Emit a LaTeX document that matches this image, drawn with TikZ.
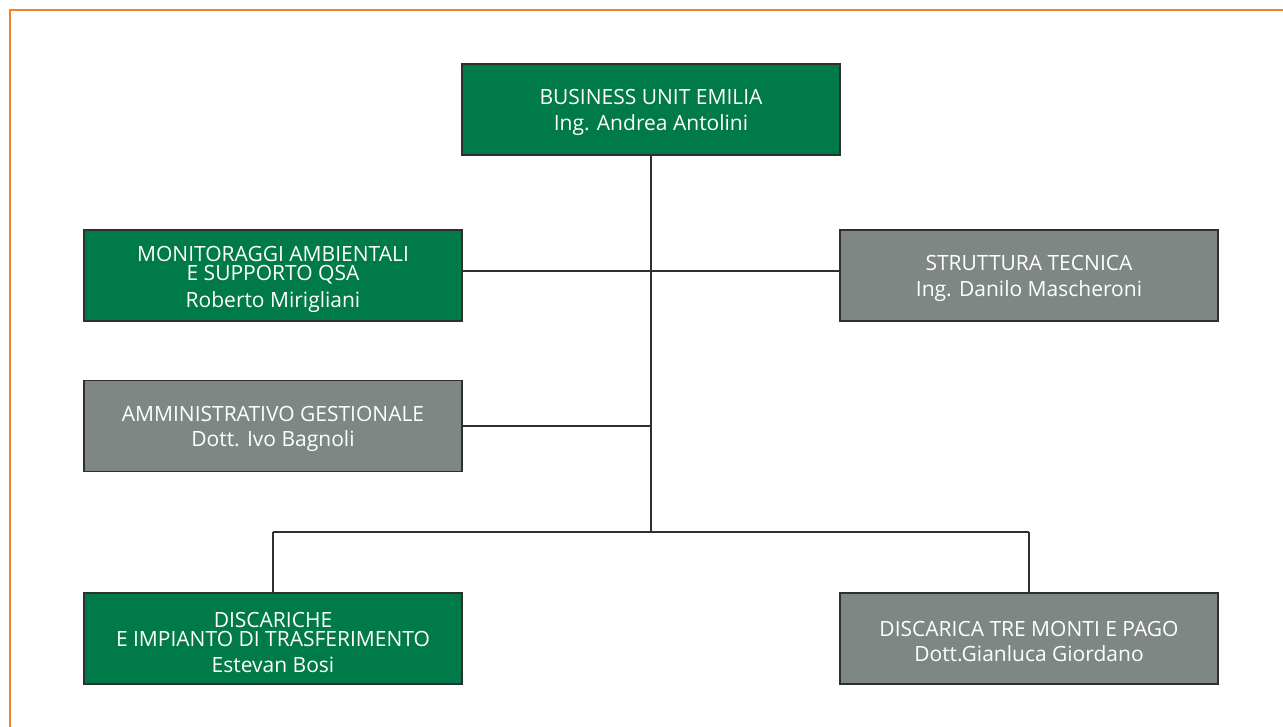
\documentclass[tikz,border=0pt]{standalone}
\usepackage{fontspec}
\setmainfont{Open Sans}
\definecolor{bgreen}{RGB}{0,122,72}
\definecolor{bgray}{RGB}{127,135,132}
\definecolor{bframe}{RGB}{244,128,46}
\definecolor{bedge}{RGB}{45,48,46}
\tikzset{
  box/.style={draw=bedge, line width=1.4pt, minimum width=378pt, minimum height=91pt,
    inner sep=0pt},
  gbox/.style={box, fill=bgreen},
  ybox/.style={box, fill=bgray},
  txt/.style={inner sep=0pt, text=white, align=center, font=\fontsize{21}{25.5}\selectfont},
  tight/.style={txt, font=\fontsize{21}{19.5}\selectfont},
  link/.style={draw=bedge, line width=1.2pt}
}
\begin{document}
\begin{tikzpicture}[x=1pt,y=-1pt]
\useasboundingbox (0,0) rectangle (1283,727);
\draw[bframe, line width=2.2pt] (10,727) -- (10,10) -- (1283,10);
\node[gbox] (top) at (651,109.5) {};
\node[gbox] (mon) at (273,275.5) {};
\node[ybox] (str) at (1029,275.5) {};
\node[ybox] (amm) at (273,426) {};
\node[gbox] (dis) at (273,638.5) {};
\node[ybox] (tre) at (1029,638.5) {};
\node[txt] (topt) at ([yshift=-3pt]top.center) {BUSINESS UNIT EMILIA\\Ing. Andrea Antolini};
\node[tight] (mont) at ([yshift=-4pt]mon.center) {MONITORAGGI AMBIENTALI\\E SUPPORTO QSA\\[6.5pt]Roberto Mirigliani};
\node[txt] (strt) at ([yshift=-3pt]str.center) {STRUTTURA TECNICA\\Ing. Danilo Mascheroni};
\node[txt] (ammt) at ([yshift=-3pt]amm.center) {AMMINISTRATIVO GESTIONALE\\Dott. Ivo Bagnoli};
\node[tight] (dist) at ([yshift=-4pt]dis.center) {DISCARICHE\\E IMPIANTO DI TRASFERIMENTO\\[6.5pt]Estevan Bosi};
\node[txt] (tret) at ([yshift=-3pt]tre.center) {DISCARICA TRE MONTI E PAGO\\Dott.Gianluca Giordano};
\coordinate (hub) at (651,532);
\coordinate (hl) at (273,532);
\coordinate (hr) at (1029,532);
\coordinate (ml) at (mon.east |- 0,271);
\coordinate (mr) at (str.west |- 0,271);
\draw[link] (top.south) -- (hub);
\draw[link] (ml) -- (mr);
\draw[link] (amm.east) -- (amm.east -| hub);
\draw[link] (hl) -- (hr);
\draw[link] (hl) -- (dis.north);
\draw[link] (hr) -- (tre.north);
\end{tikzpicture}
\end{document}
